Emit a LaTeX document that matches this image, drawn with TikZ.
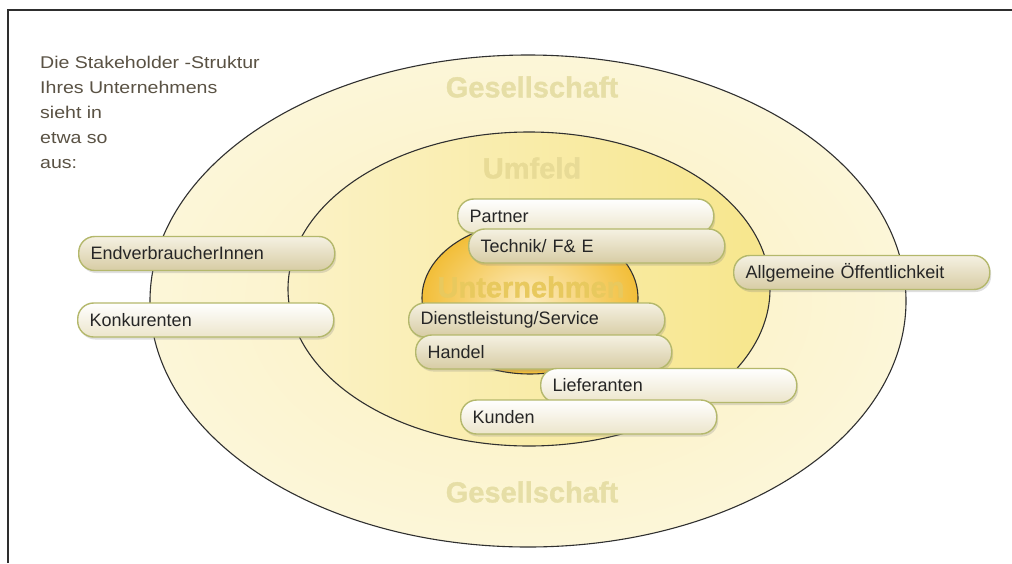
\documentclass[tikz,border=0pt]{standalone}
\usepackage{fontspec}
\setmainfont{Liberation Sans}
\newfontfamily\breitfont[FakeStretch=1.15]{Liberation Sans}
\newfontfamily\fettfont[FakeBold=1.2]{Liberation Sans Bold}
\usetikzlibrary{shadows}
\definecolor{rahmen}{HTML}{2E2E2E}
\definecolor{ringrand}{HTML}{303030}
\definecolor{gesinnen}{HTML}{FBF0BE}
\definecolor{gesaussen}{HTML}{FCF6D8}
\definecolor{umlinks}{HTML}{FBF2C6}
\definecolor{umrechts}{HTML}{F7E68C}
\definecolor{untinnen}{HTML}{FCEBBD}
\definecolor{untaussen}{HTML}{F2BE38}
\definecolor{gesname}{HTML}{E6DEA6}
\definecolor{umname}{HTML}{E8DB96}
\definecolor{untname}{HTML}{E8C95E}
\definecolor{pillrand}{HTML}{B4B86C}
\definecolor{pilltext}{HTML}{262626}
\definecolor{pillcreme}{HTML}{F5F1E2}
\definecolor{pillbeige}{HTML}{D7CCA4}
\definecolor{pillhellbeige}{HTML}{ECE5CB}
\definecolor{infotext}{HTML}{5A5244}
\tikzset{
  ring/.style={draw=ringrand, line width=1.1pt},
  feldname/.style={inner sep=0pt, font=\fettfont\fontsize{29}{30}\selectfont},
  pille/.style={anchor=west, draw=pillrand, line width=1.4pt, rounded corners=16pt,
    minimum height=34pt, text width=232pt, inner xsep=12pt, align=left,
    font=\fontsize{18}{20}\selectfont, text=pilltext,
    drop shadow={shadow xshift=1.5pt, shadow yshift=-2.5pt, opacity=0.25}},
  pillhell/.style={pille, top color=white, bottom color=pillhellbeige},
  pilldunkel/.style={pille, top color=pillcreme, bottom color=pillbeige}
}
\begin{document}
\begin{tikzpicture}[x=1pt, y=-1pt]
\useasboundingbox (0,0) rectangle (1012,563);
\fill[white] (0,0) rectangle (1012,563);
% Rahmen
\draw[rahmen, line width=2pt] (8,563) -- (8,10) -- (1012,10);
% Ringe
\draw[ring, inner color=gesinnen, outer color=gesaussen] (528,301) ellipse [x radius=378pt, y radius=246pt];
\draw[ring, left color=umlinks, right color=umrechts] (529,289) ellipse [x radius=241pt, y radius=157pt];
\draw[ring, inner color=untinnen, outer color=untaussen] (530,298) ellipse [x radius=108pt, y radius=76pt];
% Feldnamen
\node[feldname, text=gesname] (gesoben) at (532,87) {Gesellschaft};
\node[feldname, text=gesname] (gesunten) at (532,492) {Gesellschaft};
\node[feldname, text=umname] (umfeld) at (532,168) {Umfeld};
\node[feldname, text=untname] (unternehmen) at (531,287) {Unternehmen};
% Text links oben
\node[anchor=north west, inner sep=0pt, align=left, text=infotext,
  font=\breitfont\fontsize{17}{25}\selectfont] (info) at (40,56)
  {Die Stakeholder -Struktur\\Ihres Unternehmens\\sieht in\\etwa so\\aus:};
% Stakeholder
\node[pillhell] (partner) at (457,216) {Partner};
\node[pilldunkel] (technik) at (468,246) {Technik/ F\& E};
\node[pilldunkel] (oeffentlichkeit) at (733,272.5) {Allgemeine Öffentlichkeit};
\node[pilldunkel] (endverbraucher) at (78,253.5) {EndverbraucherInnen};
\node[pillhell] (konkurenten) at (77,320) {Konkurenten};
\node[pilldunkel] (dienstleistung) at (408,320) {Dienstleistung/Service};
\node[pilldunkel] (handel) at (415,352) {Handel};
\node[pillhell] (lieferanten) at (540,385.5) {Lieferanten};
\node[pillhell] (kunden) at (460,417) {Kunden};
\end{tikzpicture}
\end{document}
